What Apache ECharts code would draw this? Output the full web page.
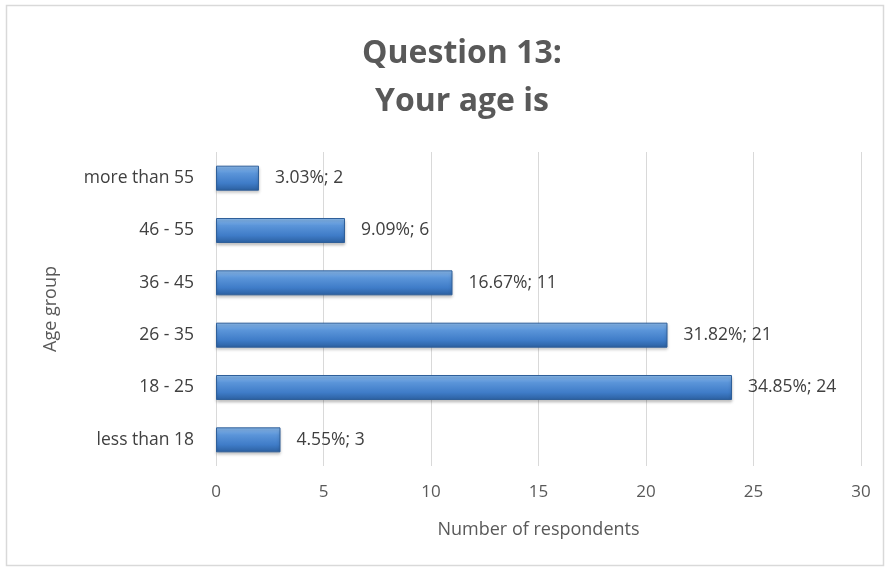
<!DOCTYPE html>
<html>
<head>
<meta charset="utf-8">
<script src="https://cdn.jsdelivr.net/npm/echarts@6/dist/echarts.min.js"></script>
<style>
html,body{margin:0;padding:0;background:#fff;}
#chart{width:889px;height:570px;}
</style>
</head>
<body>
<div id="chart"></div>
<script>
const categories = ["less than 18", "18 - 25", "26 - 35", "36 - 45", "46 - 55", "more than 55"];
const counts = [3, 24, 21, 11, 6, 2];
const percents = ["4.55%", "34.85%", "31.82%", "16.67%", "9.09%", "3.03%"];
const xTicks = [0, 5, 10, 15, 20, 25, 30];

const chart = echarts.init(document.getElementById('chart'));
const font = "'Open Sans', 'Liberation Sans', sans-serif";
chart.setOption({
  animation: false,
  backgroundColor: '#fff',
  graphic: [{
    type: 'rect', shape: {x: 6.5, y: 5.5, width: 877, height: 560},
    style: {fill: 'none', stroke: '#d9d9d9', lineWidth: 1.5}
  }],
  title: {
    text: 'Question 13:\nYour age is',
    left: 457, top: 25, textAlign: 'center',
    textStyle: {fontFamily: font, fontSize: 32, fontWeight: 'bold', color: '#595959', lineHeight: 48}
  },
  grid: {left: 216, right: 28, top: 152, bottom: 104, containLabel: false},
  xAxis: {
    type: 'value', min: xTicks[0], max: xTicks[xTicks.length - 1], interval: 5,
    name: 'Number of respondents', nameLocation: 'middle', nameGap: 55,
    nameTextStyle: {fontFamily: font, fontSize: 18, color: '#595959'},
    axisLine: {show: false}, axisTick: {show: false},
    axisLabel: {fontFamily: font, fontSize: 17, color: '#595959', margin: 18},
    splitLine: {lineStyle: {color: '#d9d9d9', width: 1}}
  },
  yAxis: {
    type: 'category', data: categories,
    name: 'Age group', nameLocation: 'middle', nameGap: 156, nameRotate: 90,
    nameTextStyle: {fontFamily: font, fontSize: 18, color: '#595959'},
    axisLine: {show: false}, axisTick: {show: false},
    axisLabel: {fontFamily: font, fontSize: 17.5, color: '#404040', margin: 22}
  },
  series: [{
    type: 'bar', data: counts, barWidth: 25,
    itemStyle: {
      color: new echarts.graphic.LinearGradient(0, 0, 0, 1, [
        {offset: 0, color: '#8cbcef'},
        {offset: 0.3, color: '#5b95d9'},
        {offset: 0.7, color: '#3f7cc8'},
        {offset: 1, color: '#2b5f9f'}
      ]),
      borderColor: '#2f5f99', borderWidth: 1,
      shadowColor: 'rgba(0,0,0,0.25)', shadowBlur: 3, shadowOffsetY: 2
    },
    label: {
      show: true, position: 'right', distance: 16,
      fontFamily: font, fontSize: 17.5, color: '#404040',
      formatter: p => percents[p.dataIndex] + '; ' + p.value
    }
  }]
});
</script>
</body>
</html>
